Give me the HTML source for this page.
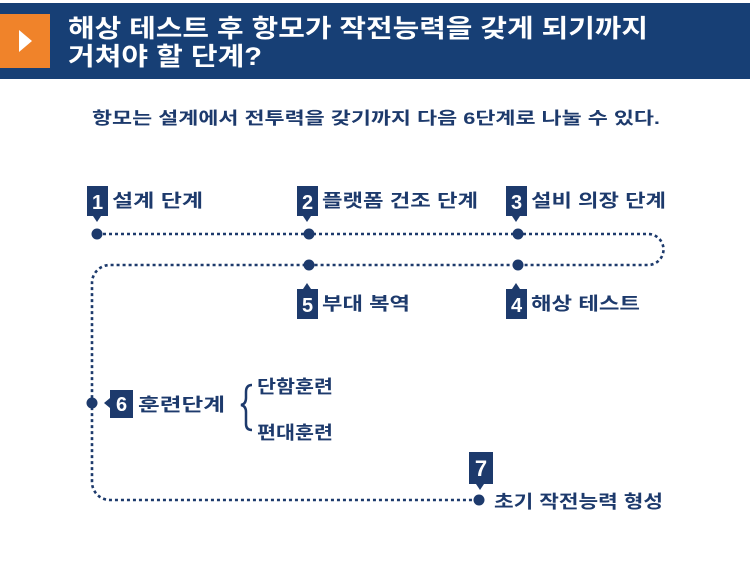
<!DOCTYPE html>
<html><head><meta charset="utf-8"><style>
html,body{margin:0;padding:0;background:#fff;}
body{width:750px;height:585px;overflow:hidden;position:relative;font-family:"Liberation Sans","Noto Sans CJK KR","NanumGothic",sans-serif;}
</style></head><body>
<svg width="750" height="585" xmlns="http://www.w3.org/2000/svg" style="position:absolute;left:0;top:0">
<rect x="0" y="3" width="750" height="76" fill="#173f75"/>
<rect x="0" y="14" width="50" height="54" fill="#f0832a"/>
<polygon points="19,30 19,52 32,41" fill="#fff"/>
<g font-family="Liberation Sans, Noto Sans CJK KR, sans-serif" font-weight="bold">
<text x="68" y="37" font-size="25" fill="#fff" textLength="580" lengthAdjust="spacingAndGlyphs">해상 테스트 후 항모가 작전능력을 갖게 되기까지</text>
<text x="68" y="65" font-size="25" fill="#fff" textLength="194" lengthAdjust="spacingAndGlyphs">거쳐야 할 단계?</text>
<text x="92" y="124" font-size="17" fill="#1d3a6c" textLength="568" lengthAdjust="spacingAndGlyphs">항모는 설계에서 전투력을 갖기까지 다음 6단계로 나눌 수 있다.</text>
</g>
<g fill="none" stroke="#1d3a6c" stroke-width="2.6" stroke-dasharray="3,3">
<path d="M97 234 H648 A15.5 15.5 0 0 1 648 265 H110 A18 18 0 0 0 92 283 V482 A18 18 0 0 0 110 500 H479"/>
</g>
<g fill="#1d3a6c">
<circle cx="97" cy="234" r="5.5"/><circle cx="309" cy="234" r="5.5"/><circle cx="518" cy="234" r="5.5"/>
<circle cx="309" cy="265" r="5.5"/><circle cx="518" cy="265" r="5.5"/>
<circle cx="92" cy="403" r="5.5"/><circle cx="479" cy="500" r="5.5"/>
<rect x="87" y="186" width="21" height="30"/><polygon points="93,216 101,216 97,222"/>
<rect x="297" y="186" width="21" height="30"/><polygon points="303,216 311,216 307,222"/>
<rect x="506" y="186" width="21" height="30"/><polygon points="512,216 520,216 516,222"/>
<rect x="297" y="289" width="21" height="30"/><polygon points="303,289 311,289 307,283"/>
<rect x="506" y="289" width="21" height="30"/><polygon points="512,289 520,289 516,283"/>
<rect x="110" y="390" width="23" height="28"/><polygon points="110,398 110,408 104,403"/>
<rect x="469" y="452" width="24" height="32"/><polygon points="476,484 484,484 480,490"/>
</g>
<g font-family="Liberation Sans, Noto Sans CJK KR, sans-serif" font-weight="bold" fill="#fff" font-size="20" text-anchor="middle">
<text x="97.5" y="209">1</text><text x="307.5" y="209">2</text><text x="516.5" y="209">3</text>
<text x="307.5" y="312">5</text><text x="516.5" y="312">4</text>
<text x="121.5" y="411">6</text><text x="481" y="476" font-size="22">7</text>
</g>
<g font-family="Liberation Sans, Noto Sans CJK KR, sans-serif" font-weight="bold" fill="#1d3a6c" font-size="18" lengthAdjust="spacingAndGlyphs">
<text x="112" y="207" textLength="91" lengthAdjust="spacingAndGlyphs">설계 단계</text>
<text x="322" y="207" textLength="156" lengthAdjust="spacingAndGlyphs">플랫폼 건조 단계</text>
<text x="531" y="207" textLength="135" lengthAdjust="spacingAndGlyphs">설비 의장 단계</text>
<text x="322" y="310" textLength="88" lengthAdjust="spacingAndGlyphs">부대 복역</text>
<text x="531" y="310" textLength="109" lengthAdjust="spacingAndGlyphs">해상 테스트</text>
<text x="138" y="411" textLength="87" lengthAdjust="spacingAndGlyphs">훈련단계</text>
<text x="257" y="393" textLength="76" lengthAdjust="spacingAndGlyphs">단함훈련</text>
<text x="257" y="439" textLength="76" lengthAdjust="spacingAndGlyphs">편대훈련</text>
<text x="494" y="508" textLength="169" lengthAdjust="spacingAndGlyphs">초기 작전능력 형성</text>
</g>
<path d="M252 385 Q246 385 246 392 V398 Q246 404 241 405 Q246 406 246 412 V424 Q246 430 252 430" fill="none" stroke="#1d3a6c" stroke-width="2.5"/>
</svg>
</body></html>
